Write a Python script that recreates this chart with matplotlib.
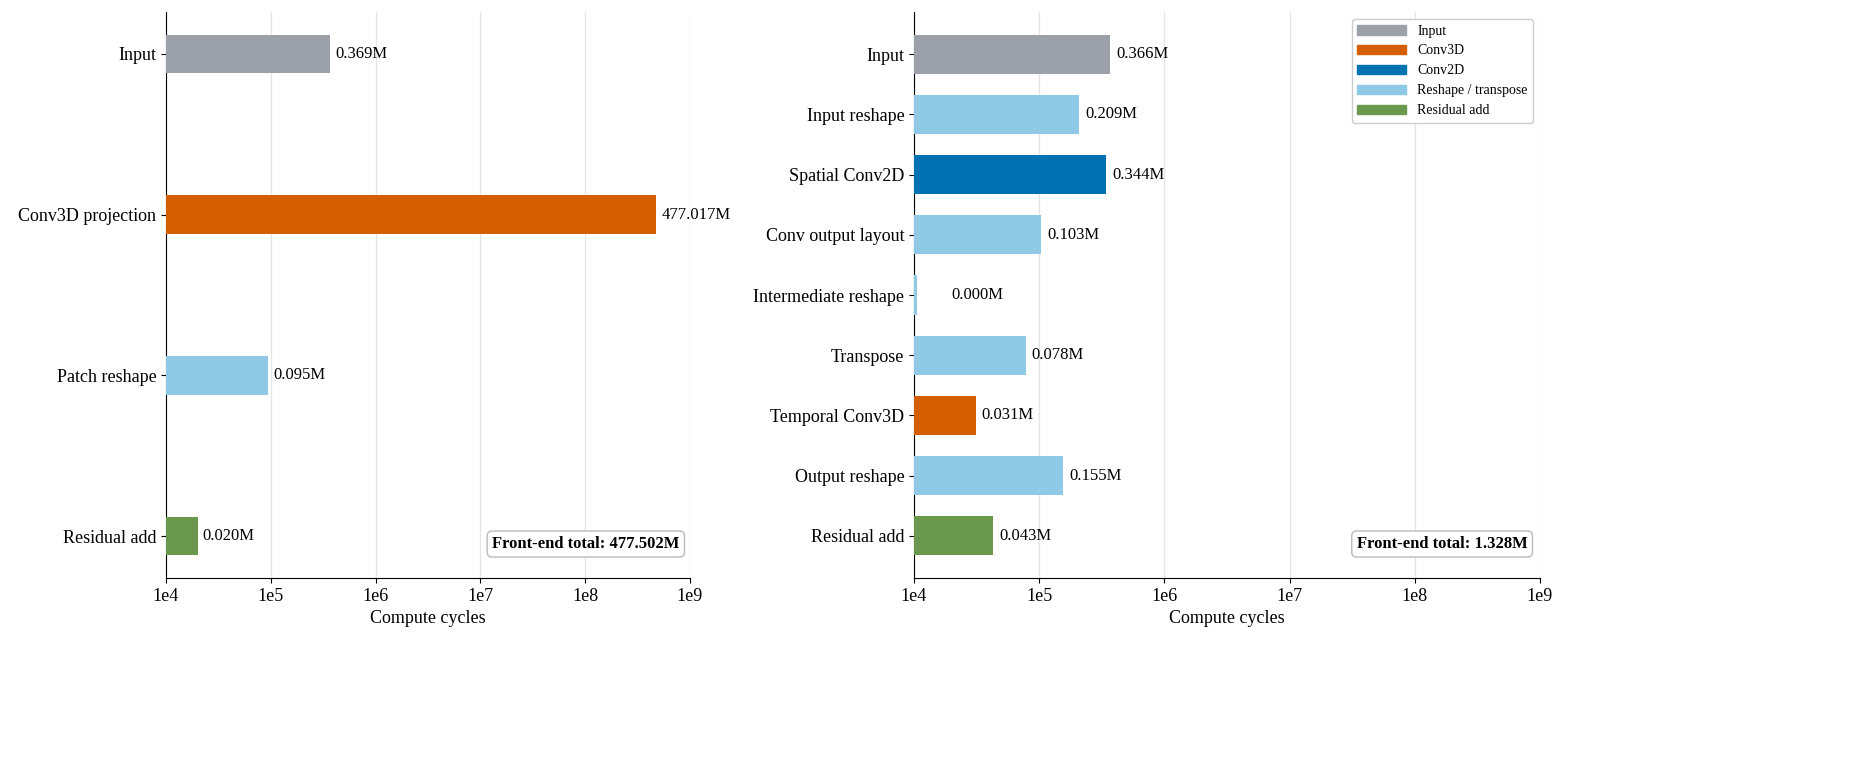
import matplotlib
matplotlib.use("Agg")
import matplotlib.pyplot as plt

plt.rcParams['font.family'] = ['Liberation Serif', 'DejaVu Serif']

left_labels = ["Input", "Conv3D projection", "Patch reshape", "Residual add"]
left_values = [369000, 477017000, 95000, 20000]
left_kinds = ["Input", "Conv3D", "Reshape / transpose", "Residual add"]
left_total = "Front-end total: 477.502M"

right_labels = ["Input", "Input reshape", "Spatial Conv2D", "Conv output layout",
                "Intermediate reshape", "Transpose", "Temporal Conv3D",
                "Output reshape", "Residual add"]
right_values = [366000, 209000, 344000, 103000, 300, 78000, 31000, 155000, 43000]
right_kinds = ["Input", "Reshape / transpose", "Conv2D", "Reshape / transpose",
               "Reshape / transpose", "Reshape / transpose", "Conv3D",
               "Reshape / transpose", "Residual add"]
right_total = "Front-end total: 1.328M"

colors = {"Input": "#9ca0a8", "Conv3D": "#d55e00", "Conv2D": "#0072b2",
          "Reshape / transpose": "#90c9e6", "Residual add": "#6a994e"}
legend_order = ["Input", "Conv3D", "Conv2D", "Reshape / transpose", "Residual add"]

fig = plt.figure(figsize=(18.6, 7.66), dpi=100)
ax1 = fig.add_axes([166/1860, 1-578/766, 524/1860, 566/766])
ax2 = fig.add_axes([914/1860, 1-578/766, 626/1860, 566/766])

def draw(ax, labels, values, kinds, total, h, pad):
    n = len(labels)
    ys = list(range(n))
    base = 1e4
    widths = [max(v, 1.05e4) - base for v in values]
    ax.barh(ys, widths, left=base, height=h, color=[colors[k] for k in kinds], zorder=3)
    for y, v in zip(ys, values):
        xv = max(v, 1.05e4)
        ax.text(xv * 1.12 if v > 1e4 else 2.0e4, y, f"{v/1e6:.3f}M", va="center", ha="left", fontsize=12)
    ax.set_xscale("log")
    ax.set_xlim(1e4, 1e9)
    ax.set_ylim(n - 1 + pad, -pad)
    ax.set_yticks(ys)
    ax.set_yticklabels(labels, fontsize=13)
    ax.set_xticks([1e4, 1e5, 1e6, 1e7, 1e8, 1e9])
    ax.set_xticklabels(["1e4", "1e5", "1e6", "1e7", "1e8", "1e9"], fontsize=13)
    ax.minorticks_off()
    ax.set_xlabel("Compute cycles", fontsize=13)
    ax.grid(axis="x", color="#e6e6e6", linewidth=1, zorder=0)
    for s in ["top", "right"]:
        ax.spines[s].set_visible(False)
    ax.text(0.98, 0.06, total, transform=ax.transAxes, ha="right", va="center",
            fontsize=12, fontweight="bold",
            bbox=dict(boxstyle="round,pad=0.3", fc="white", ec="#bbbbbb"))

draw(ax1, left_labels, left_values, left_kinds, left_total, 0.24, 0.26)
draw(ax2, right_labels, right_values, right_kinds, right_total, 0.65, 0.7)

handles = [plt.Rectangle((0, 0), 1, 1, color=colors[k]) for k in legend_order]
ax2.legend(handles, legend_order, loc="upper right", fontsize=10, framealpha=1,
           edgecolor="#cccccc", handlelength=3.5)

fig.savefig("out.png", dpi=100)
